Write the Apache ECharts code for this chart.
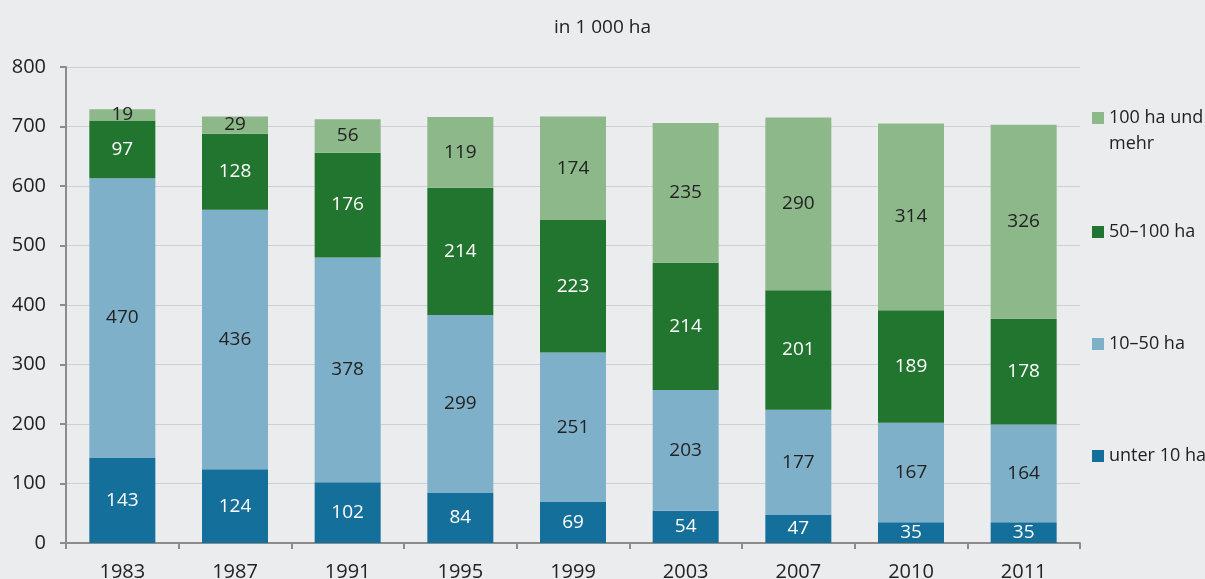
<!DOCTYPE html>
<html>
<head>
<meta charset="utf-8">
<script src="https://cdn.jsdelivr.net/npm/echarts@6/dist/echarts.min.js"></script>
<style>
  html, body { margin: 0; padding: 0; background: #ebeced; }
  #main { width: 1205px; height: 579px; }
</style>
</head>
<body>
<div id="main"></div>
<script>
var years = ['1983', '1987', '1991', '1995', '1999', '2003', '2007', '2010', '2011']
var unter10 = [143, 124, 102, 84, 69, 54, 47, 35, 35]
var ha10bis50 = [470, 436, 378, 299, 251, 203, 177, 167, 164]
var ha50bis100 = [97, 128, 176, 214, 223, 214, 201, 189, 178]
var ha100mehr = [19, 29, 56, 119, 174, 235, 290, 314, 326]
var seriesNames = ['unter 10 ha', '10–50 ha', '50–100 ha', '100 ha und mehr']

var font = 'Open Sans'
var chart = echarts.init(document.getElementById('main'))

function bar(name, data, color, labelColor) {
  return {
    name: name,
    type: 'bar',
    stack: 'total',
    barWidth: 66,
    itemStyle: { color: color },
    label: {
      show: true,
      position: 'inside',
      color: labelColor,
      fontSize: 19,
      fontFamily: font,
    },
    data: data,
  }
}

function legendAt(name, top) {
  return {
    data: [name],
    orient: 'vertical',
    left: 1087,
    top: top,
    itemWidth: 12,
    itemHeight: 12,
    itemGap: 8,
    icon: 'rect',
    // blank first line keeps "100 ha und" level with the square
    formatter: function (n) {
      return n === '100 ha und mehr' ? '\u00a0\n100 ha und\nmehr' : n
    },
    textStyle: { fontSize: 18, fontFamily: font, color: '#222', lineHeight: 26 },
  }
}

var option = {
  backgroundColor: '#ebeced',
  animation: false,
  title: {
    text: 'in 1 000 ha',
    left: 'center',
    top: 13,
    textStyle: { fontSize: 19, fontWeight: 'normal', fontFamily: font, color: '#222' },
  },
  legend: [
    legendAt(seriesNames[3], 74),
    legendAt(seriesNames[2], 214),
    legendAt(seriesNames[1], 326),
    legendAt(seriesNames[0], 438),
  ],
  grid: { left: 66, right: 125, top: 67, bottom: 36, outerBoundsMode: 'none' },
  xAxis: {
    type: 'category',
    data: years,
    axisLine: { lineStyle: { color: '#8c8c8c', width: 2 } },
    axisTick: { show: true, length: 6, lineStyle: { color: '#8c8c8c', width: 2 } },
    axisLabel: { fontSize: 20, fontFamily: font, color: '#222', margin: 19 },
  },
  yAxis: {
    type: 'value',
    min: 0,
    max: 800,
    interval: 100,
    axisLine: { show: true, lineStyle: { color: '#8c8c8c', width: 2 } },
    axisTick: { show: true, length: 6, lineStyle: { color: '#8c8c8c', width: 2 } },
    axisLabel: { fontSize: 20, fontFamily: font, color: '#222', margin: 20 },
    splitLine: { lineStyle: { color: '#cfd0d0', width: 1 } },
  },
  series: [
    bar(seriesNames[0], unter10, '#156f9b', '#fff'),
    bar(seriesNames[1], ha10bis50, '#7eb1c9', '#222'),
    bar(seriesNames[2], ha50bis100, '#22752e', '#fff'),
    bar(seriesNames[3], ha100mehr, '#8db88a', '#222'),
  ],
}
chart.setOption(option)
</script>
</body>
</html>
